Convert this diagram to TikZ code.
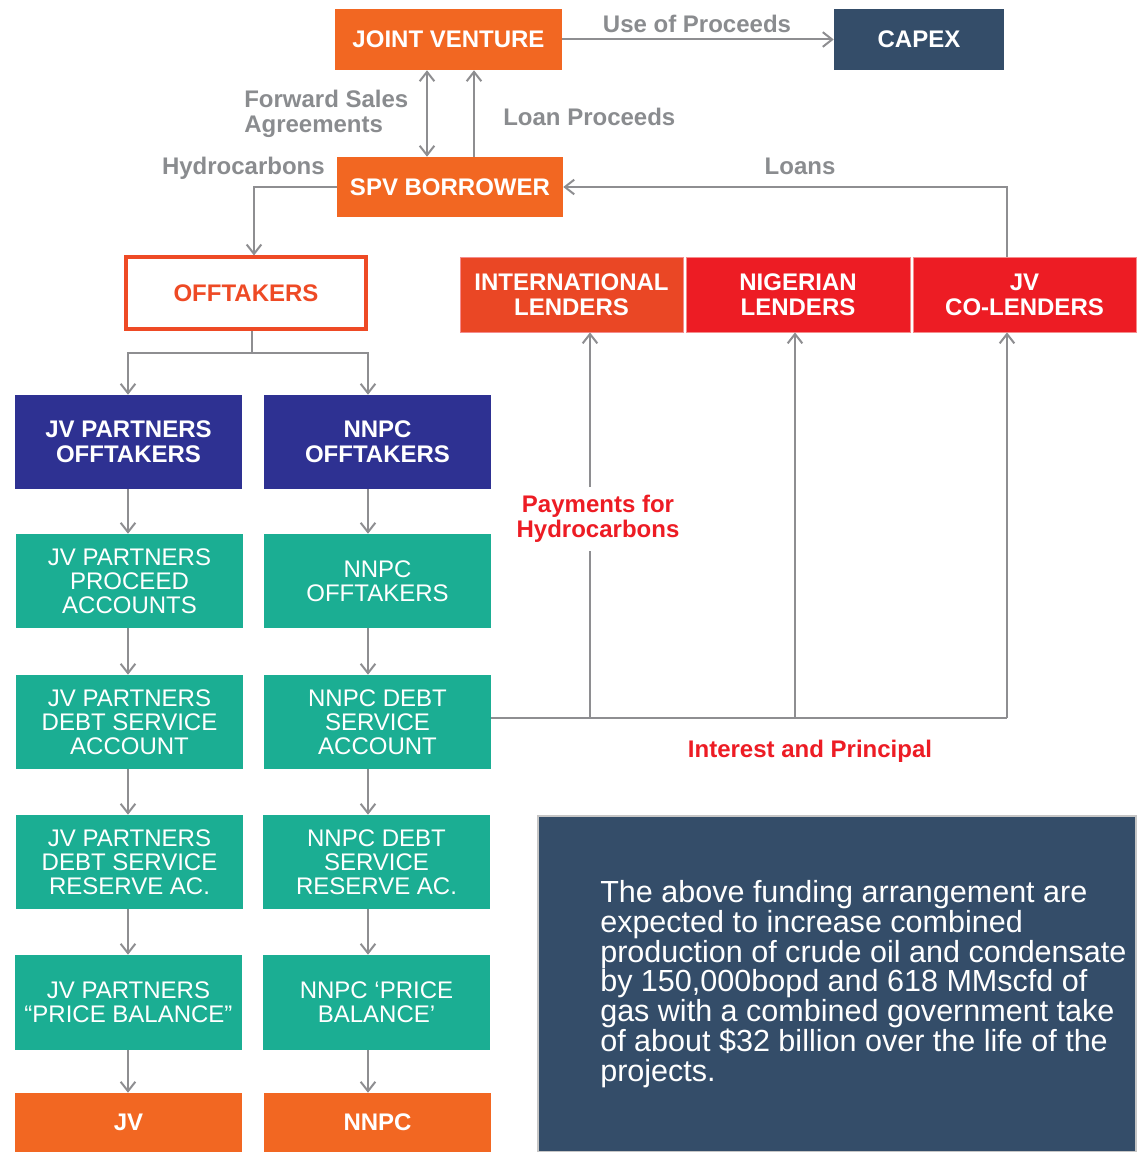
\documentclass[tikz,border=0pt]{standalone}
\usepackage{fontspec}
\setmainfont{Liberation Sans}
\usetikzlibrary{arrows.meta}
\definecolor{orng}{HTML}{F26722}
\definecolor{navy}{HTML}{344D69}
\definecolor{offred}{HTML}{EE4A25}
\definecolor{blu}{HTML}{2E3192}
\definecolor{teal1}{HTML}{1BAE93}
\definecolor{intl}{HTML}{EA4725}
\definecolor{redl}{HTML}{ED1C24}
\definecolor{lendedge}{HTML}{F58C8C}
\definecolor{gry}{HTML}{8E8E91}
\definecolor{lblgray}{HTML}{8A8C8F}
\begin{document}
\begin{tikzpicture}[x=0.75pt,y=-0.75pt,
  >={Straight Barb[length=7pt,width=11pt]},
  sz/.style 2 args={minimum width=#1*0.75pt, minimum height=#2*0.75pt},
  box/.style={inner sep=0pt, align=center, text=white,
    font=\bfseries\fontsize{18}{18.75}\selectfont},
  plainbox/.style={inner sep=0pt, align=center, text=white, fill=teal1,
    font=\fontsize{18}{18}\selectfont},
  lender/.style={box, draw=lendedge, line width=0.6pt},
  lbl/.style={inner sep=0pt, align=left, text=lblgray,
    font=\bfseries\fontsize{18}{18.75}\selectfont},
  redlbl/.style={inner sep=0pt, align=center, text=redl,
    font=\bfseries\fontsize{18}{18.75}\selectfont},
  conn/.style={draw=gry, line width=1.5pt}]
\useasboundingbox (0,0) rectangle (1136,1152);
\fill[white] (0,0) rectangle (1136,1152);

% top boxes
\node[box, fill=orng, sz={227}{61}] (jv) at (448.5,39.5) {JOINT VENTURE};
\node[box, fill=navy, sz={170}{61}] (capex) at (919,39.5) {CAPEX};
\node[box, fill=orng, sz={226}{60}] (spv) at (450,187) {SPV BORROWER};
\node[box, fill=white, draw=offred, line width=2.3pt, text=offred,
      sz={240}{72}] (off) at (246,293) {OFFTAKERS};

% lenders
\node[lender, fill=intl, sz={223}{75}] (intl) at (571.5,294.5) {INTERNATIONAL\\LENDERS};
\node[lender, fill=redl, sz={224}{75}] (ngl) at (798,294.5) {NIGERIAN\\LENDERS};
\node[lender, fill=redl, sz={223}{75}] (jvl) at (1024.5,294.5) {JV\\CO-LENDERS};

% left column
\node[box, fill=blu, sz={227}{94}] (l1) at (128.5,442) {JV PARTNERS\\OFFTAKERS};
\node[plainbox, sz={227}{94}] (l2) at (129.5,581) {JV PARTNERS\\PROCEED\\ACCOUNTS};
\node[plainbox, sz={227}{94}] (l3) at (129.5,722) {JV PARTNERS\\DEBT SERVICE\\ACCOUNT};
\node[plainbox, sz={227}{94}] (l4) at (129.5,862) {JV PARTNERS\\DEBT SERVICE\\RESERVE AC.};
\node[plainbox, sz={227}{95}] (l5) at (128.5,1002.5) {JV PARTNERS\\“PRICE BALANCE”};
\node[box, fill=orng, sz={227}{59}] (l6) at (128.5,1122.5) {JV};

% right column
\node[box, fill=blu, sz={227}{94}] (r1) at (377.5,442) {NNPC\\OFFTAKERS};
\node[plainbox, sz={227}{94}] (r2) at (377.5,581) {NNPC\\OFFTAKERS};
\node[plainbox, sz={227}{94}] (r3) at (377.5,722) {NNPC DEBT\\SERVICE\\ACCOUNT};
\node[plainbox, sz={227}{94}] (r4) at (376.5,862) {NNPC DEBT\\SERVICE\\RESERVE AC.};
\node[plainbox, sz={227}{95}] (r5) at (376.5,1002.5) {NNPC ‘PRICE\\BALANCE’};
\node[box, fill=orng, sz={227}{59}] (r6) at (377.5,1122.5) {NNPC};

% description
\node[fill=navy, draw=gray!45, line width=0.8pt, inner sep=0pt,
      sz={598}{336}] (desc) at (837,984) {};
\node[inner sep=0pt, anchor=west, align=left, text=white,
      font=\fontsize{22.9}{22.3}\selectfont] (desctext) at (600,984)
  {The above funding arrangement are\\expected to increase combined\\production of crude oil and condensate\\by 150,000bopd and 618 MMscfd of\\gas with a combined government take\\of about \$32 billion over the life of the\\projects.};

% labels
\node[lbl, align=center] (useof) at (697,24) {Use of Proceeds};
\node[lbl, anchor=west] (fsa) at (244,114) {Forward Sales\\Agreements};
\node[lbl, anchor=west] (loanp) at (503,117) {Loan Proceeds};
\node[lbl, anchor=east] (hydro) at (325,168) {Hydrocarbons};
\node[lbl, align=center] (loans) at (800,166) {Loans};
\node[redlbl, inner sep=6pt] (pay) at (598,519) {Payments for\\Hydrocarbons};
\node[redlbl] (intp) at (810,751) {Interest and Principal};

% helper coordinates
\coordinate (xA) at (427,0);
\coordinate (xB) at (474,0);
\coordinate (xH) at (254,0);
\coordinate (xL) at (1007,0);
\coordinate (xN) at (795,0);
\coordinate (xI) at (590,0);
\coordinate (c1) at (128,0);
\coordinate (c2) at (368,0);
\coordinate (split) at (252,353);
\coordinate (ip) at (1007,718);

% connectors top
\draw[conn,<->] (xA |- jv.south) -- (xA |- spv.north);
\draw[conn,->] (xB |- spv.north) -- (xB |- jv.south);
\draw[conn,->] (jv.east) -- (capex.west);
\draw[conn,->] (xL |- jvl.north) |- (spv.east);
\draw[conn,->] (spv.west) -| (xH |- off.north);

% split
\draw[conn] (split |- off.south) -- (split);
\draw[conn,->] (split) -| (c1 |- l1.north);
\draw[conn,->] (split) -| (c2 |- r1.north);

% column chains
\foreach \a/\b in {l1/l2,l2/l3,l3/l4,l4/l5,l5/l6}
  \draw[conn,->] (c1 |- \a.south) -- (c1 |- \b.north);
\foreach \a/\b in {r1/r2,r2/r3,r3/r4,r4/r5,r5/r6}
  \draw[conn,->] (c2 |- \a.south) -- (c2 |- \b.north);

% interest and principal
\draw[conn] (r3.east |- ip) -- (ip);
\draw[conn,->] (ip) -- (ip |- jvl.south);
\draw[conn,->] (xN |- ip) -- (xN |- ngl.south);
\draw[conn] (xI |- ip) -- (xI |- pay.south);
\draw[conn,->] (xI |- pay.north) -- (xI |- intl.south);
\end{tikzpicture}
\end{document}
